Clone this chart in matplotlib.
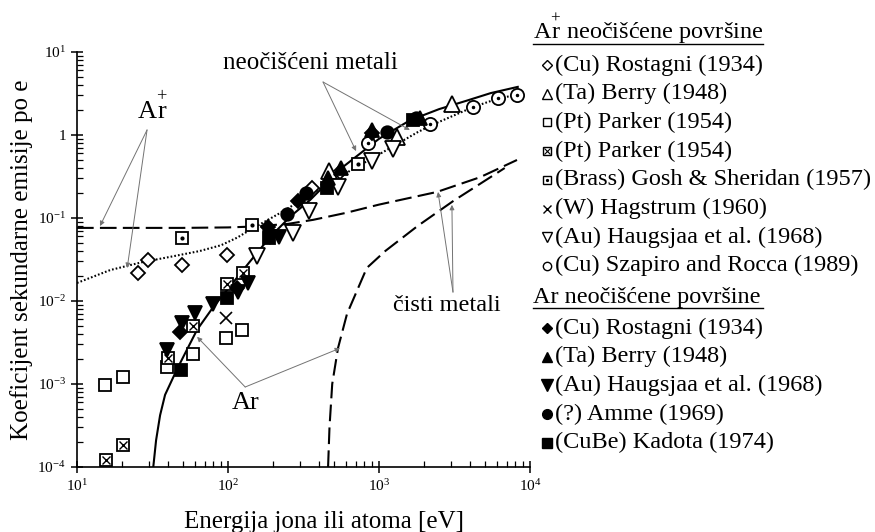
import matplotlib
matplotlib.use('Agg')
import matplotlib.pyplot as plt
import numpy as np

plt.rcParams['font.family'] = ['Liberation Serif', 'DejaVu Serif']
plt.rcParams['mathtext.fontset'] = 'custom'
plt.rcParams['mathtext.rm'] = 'Liberation Serif'
plt.rcParams['mathtext.it'] = 'Liberation Serif:italic'

# --- data: Ar+ on unclean surfaces (open markers) ---
rostagni_p_x = [25.4, 29.5, 49.5, 98, 360, 552]
rostagni_p_y = [0.0217, 0.0312, 0.0272, 0.0358, 0.23, 0.358]
berry_p_x = [467, 1315, 3040]
berry_p_y = [0.368, 0.946, 2.36]
parker_x = [15.3, 20.2, 39.4, 58.6, 97, 124]
parker_y = [9.7e-4, 1.21e-3, 1.6e-3, 2.3e-3, 3.6e-3, 4.5e-3]
parker2_x = [15.6, 20.2, 40.1, 58.6, 98, 126]
parker2_y = [1.21e-4, 1.84e-4, 2.06e-3, 5.0e-3, 0.016, 0.0217]
brass_x = [49.5, 144, 726]
brass_y = [0.0574, 0.0824, 0.448]
hagstrum_x = [97]
hagstrum_y = [6.2e-3]
haugsjaa_p_x = [156, 269, 343, 535, 899, 1240]
haugsjaa_p_y = [0.0348, 0.066, 0.121, 0.236, 0.487, 0.678]
szapiro_x = [845, 2180, 4200, 6140, 8200]
szapiro_y = [0.80, 1.36, 2.17, 2.79, 3.03]

# --- data: Ar on unclean surfaces (filled markers) ---
rostagni_x = [48, 115, 184, 290, 900]
rostagni_y = [4.2e-3, 0.0144, 0.078, 0.16, 1.06]
berry_x = [459, 560, 900, 1860]
berry_y = [0.30, 0.40, 1.15, 1.6]
haugsjaa_x = [39.4, 49.5, 60.4, 79.5, 116, 135, 190, 218]
haugsjaa_y = [2.6e-3, 5.4e-3, 7.2e-3, 9.2e-3, 0.0128, 0.0165, 0.059, 0.059]
amme_x = [245, 329, 1130, 1760]
amme_y = [0.112, 0.20, 1.09, 1.60]
kadota_x = [48.9, 98, 187, 453, 1680]
kadota_y = [1.48e-3, 0.0109, 0.0574, 0.23, 1.52]

# --- fitted curves ---
ar_unclean_x = [32, 33.4, 35.5, 38.3, 45.9, 62.4, 80, 100, 140, 190, 260, 350,
                575, 1000, 1600, 2500, 3830, 5500, 8300]
ar_unclean_y = [1e-4, 2.1e-4, 4.2e-4, 7.4e-4, 1.5e-3, 4.5e-3, 8.5e-3, 0.014, 0.030,
                0.059, 0.105, 0.165, 0.41, 0.9, 1.5, 2.05, 2.6, 3.2, 3.8]
arp_unclean_x = [10, 16.6, 27.3, 41.3, 65, 90, 115, 144, 231, 349, 642, 1060, 1800,
                 2200, 4200, 6140, 8200]
arp_unclean_y = [0.0165, 0.0236, 0.0295, 0.034, 0.040, 0.047, 0.058, 0.074, 0.120,
                 0.19, 0.37, 0.62, 1.08, 1.30, 2.17, 2.75, 3.05]
arp_clean_x = [10, 50, 100, 150, 250, 366, 600, 1000, 2420, 4670, 8200]
arp_clean_y = [0.076, 0.076, 0.077, 0.079, 0.085, 0.095, 0.115, 0.145, 0.206, 0.31, 0.5]
ar_clean_x = [460, 470, 490, 535, 614, 830, 1100, 1800, 3100, 6800]
ar_clean_y = [1e-4, 3e-4, 1e-3, 2.7e-3, 7e-3, 0.025, 0.040, 0.080, 0.16, 0.40]

y_ticks = [1e-4, 1e-3, 1e-2, 1e-1, 1, 10]
y_tick_labels = ['$10^{-4}$', '$10^{-3}$', '$10^{-2}$', '$10^{-1}$', '1', '$10^{1}$']
x_ticks = [10, 100, 1000, 10000]
x_tick_labels = ['$10^{1}$', '$10^{2}$', '$10^{3}$', '$10^{4}$']

legend_plus = ['(Cu) Rostagni (1934)', '(Ta) Berry (1948)', '(Pt) Parker (1954)',
               '(Pt) Parker (1954)', '(Brass) Gosh & Sheridan (1957)', '(W) Hagstrum (1960)',
               '(Au) Haugsjaa et al. (1968)', '(Cu) Szapiro and Rocca (1989)']
legend_ar = ['(Cu) Rostagni (1934)', '(Ta) Berry (1948)', '(Au) Haugsjaa et al. (1968)',
             '(?) Amme (1969)', '(CuBe) Kadota (1974)']

AR_PLUS = r'$\mathrm{A}\overset{+}{\mathrm{r}}$'

# --- figure ---
fig = plt.figure(figsize=(8.75, 5.32), dpi=100)
ax = fig.add_axes([77 / 875, 1 - 467 / 532, 453 / 875, 415 / 532])
ax.set_xscale('log')
ax.set_yscale('log')
ax.set_xlim(10, 1e4)
ax.set_ylim(1e-4, 10)
for s in ['top', 'right']:
    ax.spines[s].set_visible(False)
for s in ['left', 'bottom']:
    ax.spines[s].set_linewidth(1.2)

ax.set_xticks(x_ticks)
ax.set_xticklabels(x_tick_labels, fontsize=11)
ax.set_yticks(y_ticks)
ax.set_yticklabels(y_tick_labels, fontsize=11)
ax.xaxis.set_minor_locator(matplotlib.ticker.LogLocator(base=10, subs=np.arange(2, 10)))
ax.yaxis.set_minor_locator(matplotlib.ticker.LogLocator(base=10, subs=np.arange(2, 10)))
ax.xaxis.set_minor_formatter(matplotlib.ticker.NullFormatter())
ax.yaxis.set_minor_formatter(matplotlib.ticker.NullFormatter())
ax.tick_params(which='major', direction='inout', length=8, width=1.1, pad=4)
ax.tick_params(which='minor', direction='in', length=4, width=0.9)

ax.set_xlabel('Energija jona ili atoma [eV]', fontsize=18)
ax.set_ylabel('Koeficijent sekundarne emisije po e', fontsize=18)
ax.xaxis.set_label_coords(0.545, -0.105)
ax.yaxis.set_label_coords(-0.097, 0.5)

# curves
ax.plot(ar_unclean_x, ar_unclean_y, color='black', lw=1.5, zorder=2)
ax.plot(arp_unclean_x, arp_unclean_y, color='black', lw=1.5, dashes=(0.8, 1.0), zorder=2)
ax.plot(arp_clean_x, arp_clean_y, color='black', lw=1.5, dashes=(8, 3), zorder=2)
ax.plot(ar_clean_x, ar_clean_y, color='black', lw=1.5, dashes=(8, 3), zorder=2)

# markers
def mk(x, y, marker, ms, fill='white', inner=None, inner_ms=None, mew=1.3):
    ax.plot(x, y, ls='none', marker=marker, ms=ms, mfc=fill, mec='black', mew=mew,
            zorder=4, clip_on=False)
    if inner is not None:
        ax.plot(x, y, ls='none', marker=inner, ms=inner_ms, color='black', mew=1.0,
                zorder=5, clip_on=False)

mk(rostagni_p_x, rostagni_p_y, 'D', 7.5)
mk(berry_p_x, berry_p_y, '^', 11)
mk(parker_x, parker_y, 's', 8)
mk(parker2_x, parker2_y, 's', 8, inner='x', inner_ms=6)
mk(brass_x, brass_y, 's', 8, inner='.', inner_ms=4)
ax.plot(hagstrum_x, hagstrum_y, ls='none', marker='x', ms=8, mec='black', mew=1.2, zorder=4)
mk(haugsjaa_p_x, haugsjaa_p_y, 'v', 11)
mk(szapiro_x, szapiro_y, 'o', 9.5, inner='.', inner_ms=3)

mk(rostagni_x, rostagni_y, 'D', 7.5, fill='black')
mk(berry_x, berry_y, '^', 10, fill='black')
mk(haugsjaa_x, haugsjaa_y, 'v', 10, fill='black')
mk(amme_x, amme_y, 'o', 9, fill='black')
mk(kadota_x, kadota_y, 's', 8, fill='black')

# annotations
arr = dict(arrowstyle='-|>', color='0.45', lw=0.7, shrinkA=0, shrinkB=0, mutation_scale=7)
ax.text(31.4, 1.6, AR_PLUS, fontsize=19, ha='center', va='baseline')
ax.annotate('', xy=(14.2, 0.080), xytext=(29.1, 1.15), arrowprops=arr)
ax.annotate('', xy=(21.5, 0.025), xytext=(29.1, 1.15), arrowprops=arr)

ax.text(349, 7.4, 'neočišćeni metali', fontsize=18, ha='center', va='center')
ax.annotate('', xy=(705, 0.64), xytext=(426, 4.35), arrowprops=arr)
ax.annotate('', xy=(1600, 1.15), xytext=(426, 4.35), arrowprops=arr)

ax.text(130, 5.9e-4, 'Ar', fontsize=19, ha='center', va='center')
ax.annotate('', xy=(62.4, 3.7e-3), xytext=(130, 9.2e-4), arrowprops=arr)
ax.annotate('', xy=(552, 2.7e-3), xytext=(130, 9.2e-4), arrowprops=arr)

ax.text(2820, 8.9e-3, 'čisti metali', fontsize=17.5, ha='center', va='center')
ax.annotate('', xy=(2460, 0.206), xytext=(3090, 0.0128), arrowprops=arr)
ax.annotate('', xy=(3040, 0.144), xytext=(3090, 0.0128), arrowprops=arr)

# legend drawn in pixel space
ov = fig.add_axes([0, 0, 1, 1], zorder=5)
ov.set_xlim(0, 875)
ov.set_ylim(532, 0)
ov.axis('off')

def lg_mark(y, marker, fill='white', inner=None, inner_ms=None, ms=6):
    ov.plot([547], [y], ls='none', marker=marker, ms=ms, mfc=fill, mec='black', mew=1.0)
    if inner is not None:
        ov.plot([547], [y], ls='none', marker=inner, ms=inner_ms, color='black', mew=0.8)

ov.text(533, 39, AR_PLUS + ' neočišćene površine', fontsize=17.5, ha='left', va='baseline')
ov.plot([533, 763], [44, 44], color='black', lw=1.0)
plus_marks = [('D', 'white', None, None, 5.5), ('^', 'white', None, None, 7),
              ('s', 'white', None, None, 5.5), ('s', 'white', 'x', 4, 6),
              ('s', 'white', '.', 3, 6), ('x', 'white', None, None, 6),
              ('v', 'white', None, None, 7.5), ('o', 'white', None, None, 6)]
for i, (lab, m) in enumerate(zip(legend_plus, plus_marks)):
    yy = 65 + 28.7 * i
    lg_mark(yy, m[0], m[1], m[2], m[3], m[4])
    ov.text(555, yy, lab, fontsize=17.5, ha='left', va='center')

ov.text(533, 297, 'Ar neočišćene površine', fontsize=17.5, ha='left', va='center')
ov.plot([533, 763], [308, 308], color='black', lw=1.0)
ar_marks = [('D', 'black', 5.5), ('^', 'black', 7.5), ('v', 'black', 8),
            ('o', 'black', 7), ('s', 'black', 6.5)]
for i, (lab, m) in enumerate(zip(legend_ar, ar_marks)):
    yy = 328 + 28.7 * i
    lg_mark(yy, m[0], m[1], ms=m[2])
    ov.text(555, yy, lab, fontsize=17.5, ha='left', va='center')

fig.savefig('out.png', dpi=100)
